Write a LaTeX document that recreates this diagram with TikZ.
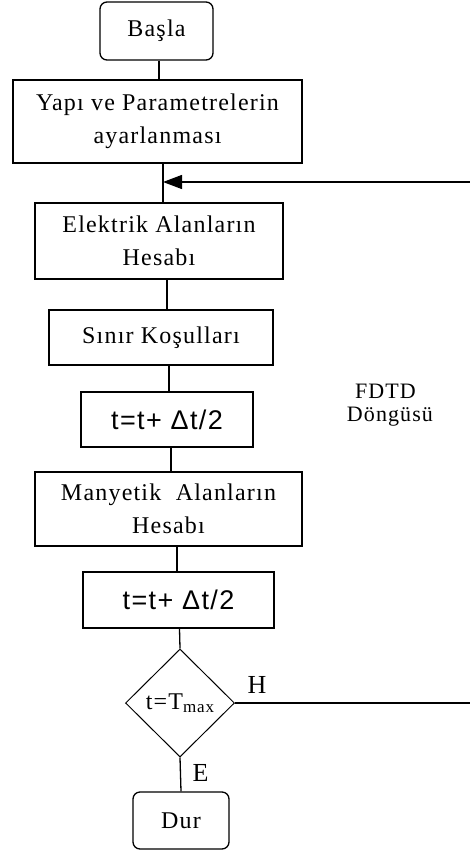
\documentclass[tikz,border=0pt]{standalone}
\usepackage{fontspec}
\setmainfont{Liberation Serif}[LetterSpace=5]
\newfontfamily\dsans{Liberation Sans}[LetterSpace=5]
\newfontfamily\plainserif{Liberation Serif}
\usetikzlibrary{shapes.geometric,arrows.meta}
\begin{document}
\begin{tikzpicture}[x=1pt,y=-1pt,line width=1.3pt,
  box/.style={draw, rectangle, align=center, inner sep=0pt,
    font=\fontsize{24}{33}\selectfont},
  term/.style={box, rounded corners=7pt},
  dtbox/.style={box, font=\dsans\fontsize{27}{30}\selectfont},
  decision/.style={draw, diamond, aspect=1, inner sep=0pt, line width=1pt,
    minimum width=109pt, minimum height=108pt},
  lbl/.style={inner sep=0pt, font=\fontsize{22}{28}\selectfont},
  yn/.style={inner sep=0pt, font=\plainserif\fontsize{26}{28}\selectfont},
  link/.style={draw, line width=1.3pt},
  back/.style={draw, line width=1.3pt, -{Triangle[length=19pt,width=14pt]}}]
\useasboundingbox (0,0) rectangle (470,855);
\fill[white] (0,0) rectangle (470,855);

\node[term, minimum width=113pt, minimum height=58pt] (basla) at (156.5,31) {Başla};
\node[box, minimum width=289pt, minimum height=83pt] (yapi) at (157.5,121.5)
  {Yapı ve Parametrelerin\\ayarlanması};
\node[box, minimum width=248pt, minimum height=76pt] (elek) at (159,241)
  {Elektrik Alanların\\Hesabı};
\node[box, minimum width=224pt, minimum height=55pt] (sinir) at (161,337.5)
  {Sınır Koşulları};
\node[dtbox, minimum width=172pt, minimum height=55pt] (dt1) at (167,419.5)
  {t=t+ Δt/2};
\node[box, minimum width=267pt, minimum height=74pt] (many) at (168.5,509)
  {Manyetik \ Alanların\\Hesabı};
\node[dtbox, minimum width=191pt, minimum height=56pt] (dt2) at (178.5,600)
  {t=t+ Δt/2};
\node[decision] (dec) at (180,703)
  {\fontsize{24}{26}\selectfont t=T\raisebox{-3pt}{\fontsize{17}{20}\selectfont max}};
\node[term, minimum width=96pt, minimum height=57pt] (dur) at (181,820.5) {Dur};

\node[lbl] (fdtd) at (385.5,391.5) {FDTD};
\node[lbl] (dong) at (390,417) {Döngüsü};
\node[yn] (h) at (257,685) {H};
\node[yn] (e) at (200.5,772.5) {E};

\coordinate (x1) at (159,0);
\coordinate (x2) at (163,0);
\coordinate (x3) at (167,0);
\coordinate (x4) at (169,0);
\coordinate (x5) at (171,0);
\coordinate (x6) at (177,0);
\coordinate (x7) at (179.5,0);
\coordinate (merge) at (163,182);
\coordinate (rtop) at (470,182);
\coordinate (rbot) at (470,703);

\path[link] (basla.south -| x1) -- (yapi.north -| x1);
\path[link] (yapi.south -| x2) -- (elek.north -| x2);
\path[link] (elek.south -| x3) -- (sinir.north -| x3);
\path[link] (sinir.south -| x4) -- (dt1.north -| x4);
\path[link] (dt1.south -| x5) -- (many.north -| x5);
\path[link] (many.south -| x6) -- (dt2.north -| x6);
\path[link] (dt2.south -| x7) -- (dec.north);
\path[link] (dec.south) -- (dur.north);
\path[link] (dec.east) -- (rbot);
\path[back] (rtop) -- (merge);
\end{tikzpicture}
\end{document}
